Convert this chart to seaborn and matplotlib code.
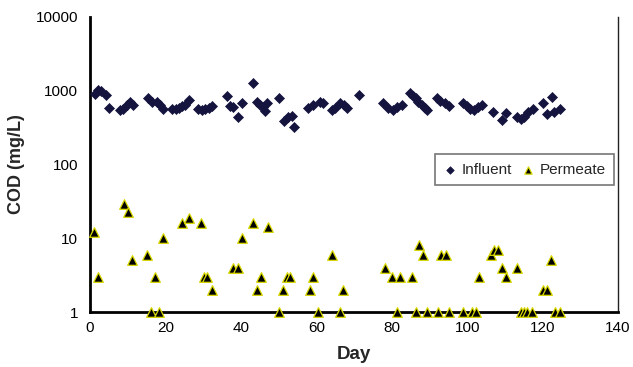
import matplotlib
matplotlib.use("Agg")
import matplotlib.pyplot as plt
import seaborn as sns
import pandas as pd
from matplotlib.ticker import FixedLocator, NullLocator, FixedFormatter

# ---- data ----
influent_day = [1.3, 2.2, 2.8, 4.2, 5.0, 8.0, 8.8, 9.7, 10.6, 11.3,
                15.3, 16.4, 17.7, 18.6, 19.3,
                21.8, 22.7, 23.6, 24.5, 25.2, 26.3,
                28.7, 29.6, 30.5, 31.6, 32.4,
                36.2, 37.1, 37.8, 39.3, 40.2,
                43.3, 44.2, 45.1, 46.0, 46.4, 47.0,
                50.1, 51.5, 52.6, 53.5, 54.2,
                57.9, 59.2, 61.0, 61.9, 64.1, 65.0, 66.3, 67.4, 68.2,
                71.3,
                77.8, 79.1, 80.3, 81.3, 82.7,
                84.9, 85.7, 86.4, 87.1, 88.0, 88.8, 89.4,
                91.9, 92.8, 94.1, 95.3,
                99.0, 99.9, 100.8, 101.8, 103.0, 103.9,
                106.9, 109.2, 110.3,
                113.2, 114.2, 115.1, 116.2, 117.4,
                120.2, 121.3, 122.4, 122.9, 124.5]
influent_cod = [900, 1020, 980, 876, 590, 548, 565, 640, 711, 650,
                805, 711, 711, 641, 560,
                565, 565, 590, 630, 650, 745,
                565, 548, 565, 590, 620,
                862, 630, 595, 440, 676,
                1262, 700, 650, 595, 535, 680,
                805, 393, 440, 460, 325,
                580, 641, 711, 690, 548, 580, 676, 641, 580,
                876,
                676, 580, 548, 610, 641,
                945, 850, 790, 711, 641, 590, 548,
                790, 730, 676, 620,
                676, 630, 560, 548, 595, 641,
                520, 401, 505,
                440, 410, 440, 510, 560,
                676, 485, 810, 520, 560]

permeate_day = [1.1, 2.0, 9.1, 10.2, 11.2, 15.1, 16.2, 17.2, 18.3, 19.3,
                24.3, 26.3, 29.3, 30.1, 31.1, 32.3, 38.0, 39.3, 40.2,
                43.3, 44.2, 45.3, 47.1, 50.2, 51.3, 52.2, 53.1,
                58.3, 59.2, 60.4, 64.2, 66.3, 67.2,
                78.2, 80.2, 81.3, 82.2, 85.3, 86.4, 87.2, 88.4, 89.3,
                92.2, 93.1, 94.4, 95.3, 99.0, 101.2, 102.3, 103.2,
                106.3, 107.2, 108.3, 109.3, 110.3, 113.3,
                114.2, 115.1, 116.0, 117.1, 120.0, 121.3, 122.2, 123.3, 124.5]
permeate_cod = [12, 3, 29, 23, 5, 6, 1, 3, 1, 10,
                16, 19, 16, 3, 3, 2, 4, 4, 10,
                16, 2, 3, 14, 1, 2, 3, 3,
                2, 3, 1, 6, 1, 2,
                4, 3, 1, 3, 3, 1, 8, 6, 1,
                1, 6, 6, 1, 1, 1, 1, 3,
                6, 7, 7, 4, 3, 4,
                1, 1, 1, 1, 2, 2, 5, 1, 1]

x_ticks = [0, 20, 40, 60, 80, 100, 120, 140]
y_ticks = [1, 10, 100, 1000, 10000]
y_tick_labels = ["1", "10", "100", "1000", "10000"]

df_inf = pd.DataFrame({"Day": influent_day, "COD": influent_cod})
df_per = pd.DataFrame({"Day": permeate_day, "COD": permeate_cod})

sns.set_style("white")
plt.rcParams["font.family"] = ["Liberation Sans", "DejaVu Sans"]

fig = plt.figure(figsize=(6.33, 3.67), dpi=100)
ax = fig.add_axes([90 / 633, 1 - 312 / 367, 528 / 633, 295 / 367])

sns.scatterplot(data=df_inf, x="Day", y="COD", ax=ax, marker="D", s=26,
                color="#14143f", edgecolor="#14143f", linewidth=0.5,
                label="Influent", clip_on=False, zorder=3)
sns.scatterplot(data=df_per, x="Day", y="COD", ax=ax, marker="^", s=48,
                color="black", edgecolor="#d8d800", linewidth=0.9,
                label="Permeate", clip_on=False, zorder=3)

ax.set_yscale("log")
ax.set_xlim(0, 140)
ax.set_ylim(1, 10000)
ax.xaxis.set_major_locator(FixedLocator(x_ticks))
ax.yaxis.set_major_locator(FixedLocator(y_ticks))
ax.yaxis.set_major_formatter(FixedFormatter(y_tick_labels))
ax.yaxis.set_minor_locator(NullLocator())

ax.tick_params(axis="both", labelsize=11, colors="black")
ax.tick_params(axis="y", direction="out", length=5, width=1.2)
ax.tick_params(axis="x", direction="inout", length=6, width=1.2)

for side in ["left", "bottom"]:
    ax.spines[side].set_color("black")
    ax.spines[side].set_linewidth(2)
ax.spines["top"].set_visible(False)
ax.spines["right"].set_color("#222222")
ax.spines["right"].set_linewidth(1)

ax.set_xlabel("Day", fontsize=13.5, fontweight="bold", labelpad=8)
ax.set_ylabel("COD (mg/L)", fontsize=13, fontweight="bold", labelpad=8)

leg = ax.legend(loc="upper left", bbox_to_anchor=(0.645, 0.55), ncol=2,
                fontsize=11, frameon=True, fancybox=False,
                handlelength=0.8, handletextpad=0.4, columnspacing=0.6,
                borderpad=0.55, markerscale=0.75, borderaxespad=0.3)
leg.get_frame().set_edgecolor("#555555")
leg.get_frame().set_linewidth(1.2)

fig.savefig("out.png", dpi=100)
